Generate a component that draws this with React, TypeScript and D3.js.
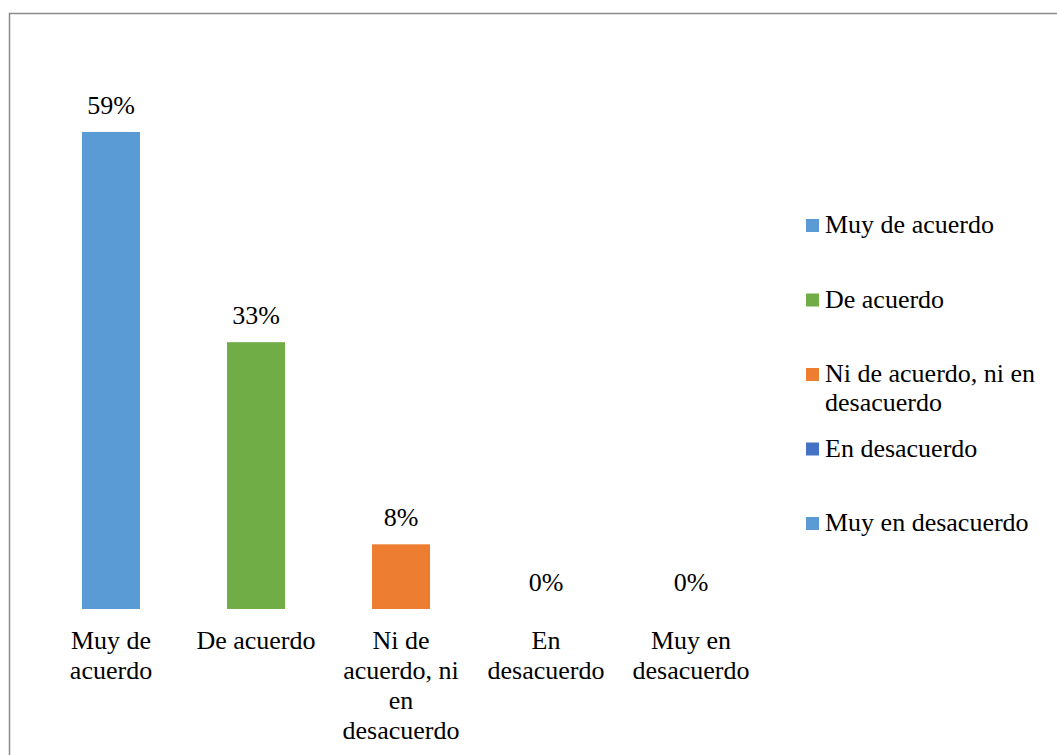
import React from "react";
import * as d3 from "d3";

const categories = [
  "Muy de acuerdo",
  "De acuerdo",
  "Ni de acuerdo, ni en desacuerdo",
  "En desacuerdo",
  "Muy en desacuerdo",
];
const categoryLines = [
  ["Muy de", "acuerdo"],
  ["De acuerdo"],
  ["Ni de", "acuerdo, ni", "en", "desacuerdo"],
  ["En", "desacuerdo"],
  ["Muy en", "desacuerdo"],
];
const values = [0.59, 0.33, 0.08, 0, 0];
const colors = ["#5B9BD5", "#70AD47", "#ED7D31", "#4472C4", "#5B9BD5"];
const legendLines = [
  ["Muy de acuerdo"],
  ["De acuerdo"],
  ["Ni de acuerdo, ni en", "desacuerdo"],
  ["En desacuerdo"],
  ["Muy en desacuerdo"],
];

const W = 1057;
const H = 755;
const FONT = "'Liberation Serif', 'Times New Roman', serif";
const FS = 26;

export default function App() {
  const x = d3
    .scaleBand<string>()
    .domain(categories)
    .range([38.5, 763.5])
    .paddingInner(0.6)
    .paddingOuter(0.3);
  const y = d3.scaleLinear().domain([0, 0.7]).range([609, 43]);
  const fmt = d3.format(".0%");

  return (
    <svg
      width={W}
      height={H}
      style={{ position: "absolute", left: 0, top: 0, background: "#fff" }}
      fontFamily={FONT}
      fontSize={FS}
    >
      <rect x={0} y={0} width={W} height={H} fill="#fff" />
      <path
        d={`M9.5,${H + 5} L9.5,13.5 L${W + 5},13.5`}
        fill="none"
        stroke="#8a8a8a"
        strokeWidth={1.5}
      />
      {categories.map((c, i) => {
        const bx = x(c)!;
        const bw = x.bandwidth();
        const top = y(values[i]);
        return (
          <g key={c}>
            <rect x={bx} y={top} width={bw} height={y(0) - top} fill={colors[i]} />
            <text x={bx + bw / 2} y={top - 18} textAnchor="middle" fill="#000">
              {fmt(values[i])}
            </text>
            {categoryLines[i].map((ln, j) => (
              <text
                key={j}
                x={bx + bw / 2}
                y={649 + j * 30}
                textAnchor="middle"
                fill="#000"
              >
                {ln}
              </text>
            ))}
          </g>
        );
      })}
      {legendLines.map((lines, i) => {
        const base = 233 + i * 74.5;
        return (
          <g key={i}>
            <rect x={806} y={base - 14} width={13} height={13} fill={colors[i]} />
            {lines.map((ln, j) => (
              <text key={j} x={825} y={base + j * 29} fill="#000">
                {ln}
              </text>
            ))}
          </g>
        );
      })}
    </svg>
  );
}
